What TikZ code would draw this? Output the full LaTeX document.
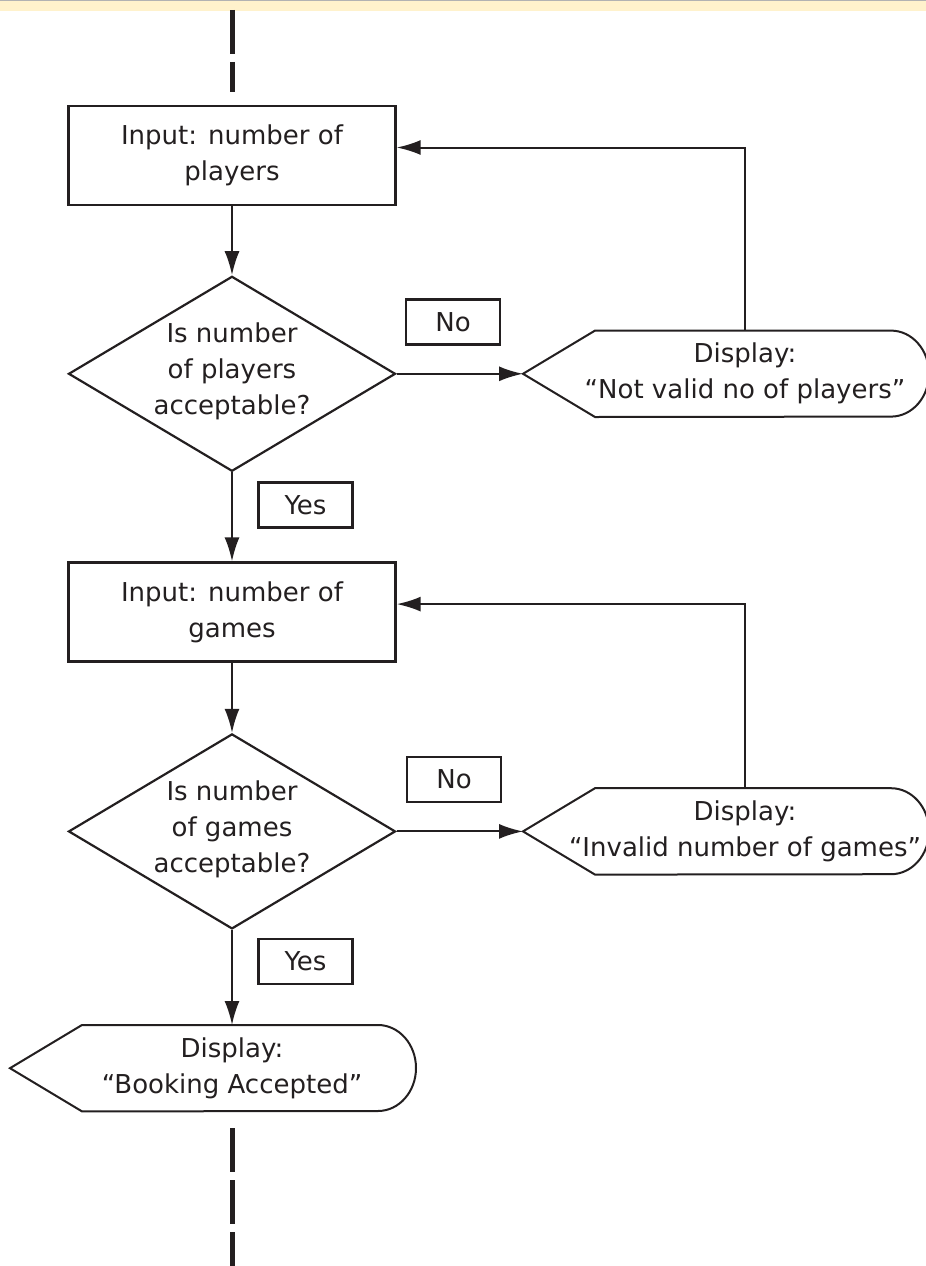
\documentclass[tikz,border=0pt]{standalone}
\usepackage{fontspec}
\setmainfont{DejaVu Sans}
\usepackage{xcolor}
\usetikzlibrary{shapes.geometric, arrows.meta, positioning}
\definecolor{band}{HTML}{FFF2CC}
\definecolor{ink}{HTML}{231F20}
\tikzstyle{process} = [rectangle, minimum width=327pt, minimum height=99pt, text centered, align=center, draw=ink, line width=2.4pt]
\tikzstyle{decision} = [diamond, minimum width=327pt, minimum height=195pt, inner sep=0pt, draw=ink, line width=2.2pt]
\tikzstyle{display} = [minimum height=86pt, inner sep=0pt, align=center]
\tikzstyle{answer} = [rectangle, minimum width=94pt, minimum height=45pt, draw=ink, line width=2.4pt]
\tikzstyle{arrow} = [line width=2pt, draw=ink, -{Latex[length=24pt, width=15pt]}]
\tikzstyle{line} = [line width=2pt, draw=ink]
\tikzstyle{flowdash} = [line width=5pt, draw=ink, dash pattern=on 44pt off 8pt]
\newcommand{\dispoutline}[1]{%
  \coordinate (#1tip) at ([xshift=-222pt]#1.center);
  \draw [line] (#1tip) -- ([xshift=-150pt]#1.north) -- ([xshift=146pt]#1.north)
    arc[start angle=90, end angle=-90, x radius=38pt, y radius=43pt]
    -- ([xshift=-150pt]#1.south) -- cycle;}

\begin{document}
\begin{tikzpicture}[x=1pt, y=1pt, font=\fontsize{26}{36}\selectfont, text=ink]
   \useasboundingbox (0,0) rectangle (926,-1266);
   \fill [band] (0,0) rectangle (926,-11);
   \draw [gray!60, line width=1pt] (0,-0.5) -- (926,-0.5);

   \node (inp1) [process] at (232,-155.5) {Input: number of\\players};
   \node (dm1) [decision, below=69pt of inp1] {};
   \node (q1) [align=center] at ([yshift=2pt]dm1.center) {Is number\\of players\\acceptable?};
   \node (d1) [display] at ([xshift=513pt]dm1.center) {Display:\\“Not valid no of players”};
   \dispoutline{d1}
   \node (no1) [answer] at ([xshift=221pt, yshift=52pt]dm1.center) {No};
   \node (yes1) [answer] at ([xshift=73.5pt, yshift=-32.5pt]dm1.south) {Yes};

   \node (inp2) [process, below=89pt of dm1] {Input: number of\\games};
   \node (dm2) [decision, below=70pt of inp2] {};
   \node (q2) [align=center] at ([yshift=2pt]dm2.center) {Is number\\of games\\acceptable?};
   \node (d2) [display] at ([xshift=513pt]dm2.center) {Display:\\“Invalid number of games”};
   \dispoutline{d2}
   \node (no2) [answer] at ([xshift=222pt, yshift=52pt]dm2.center) {No};
   \node (yes2) [answer] at ([xshift=73.5pt, yshift=-31.5pt]dm2.south) {Yes};

   \node (d3) [display, below=95pt of dm2] {Display:\\“Booking Accepted”};
   \dispoutline{d3}

   % in and out of this part of the chart
   \coordinate (start) at ([yshift=95pt]inp1.north);
   \coordinate (startend) at ([yshift=13pt]inp1.north);
   \coordinate (stop) at ([yshift=-17pt]d3.south);
   \coordinate (stopend) at ([yshift=-155pt]d3.south);
   \draw [flowdash] (start) -- (startend);
   \draw [flowdash] (stop) -- (stopend);

   \draw [arrow] (inp1) -- (dm1);
   \draw [arrow] (dm1.east) -- (d1tip);
   \draw [arrow] (d1.north) |- ([yshift=8pt]inp1.east);
   \draw [arrow] (dm1.south) -- (inp2);
   \draw [arrow] (inp2) -- (dm2);
   \draw [arrow] (dm2.east) -- (d2tip);
   \draw [arrow] (d2.north) |- ([yshift=8pt]inp2.east);
   \draw [arrow] (dm2.south) -- (d3);
\end{tikzpicture}
\end{document}
